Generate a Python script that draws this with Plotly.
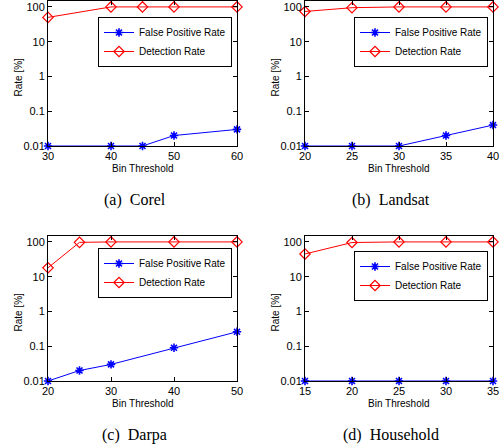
import plotly.graph_objects as go

# ---- data ----
x_corel = [30, 40, 45, 50, 60]
fpr_corel = [0.01, 0.01, 0.01, 0.02, 0.03]
dr_corel = [50, 100, 100, 100, 100]

x_landsat = [20, 25, 30, 35, 40]
fpr_landsat = [0.01, 0.01, 0.01, 0.02, 0.04]
dr_landsat = [74, 95, 100, 100, 100]

x_darpa = [20, 25, 30, 40, 50]
fpr_darpa = [0.01, 0.02, 0.03, 0.09, 0.26]
dr_darpa = [18, 97, 100, 100, 100]

x_house = [15, 20, 25, 30, 35]
fpr_house = [0.01, 0.01, 0.01, 0.01, 0.01]
dr_house = [45, 96, 100, 100, 100]

xticks_corel = [30, 40, 50, 60]
xticks_landsat = [20, 25, 30, 35, 40]
xticks_darpa = [20, 30, 40, 50]
xticks_house = [15, 20, 25, 30, 35]
yticks = [0.01, 0.1, 1, 10, 100]
ytick_labels = ["0.01", "0.1", "1", "10", "100"]

captions = ["(a)  Corel", "(b)  Landsat", "(c)  Darpa", "(d)  Household"]
names = ["False Positive Rate", "Detection Rate"]

W, H = 501, 448

panels = [
    dict(x=x_corel, fpr=fpr_corel, dr=dr_corel, xt=xticks_corel, xr=[30, 60],
         box=(48, 237, 1, 146), leg=(232, 17)),
    dict(x=x_landsat, fpr=fpr_landsat, dr=dr_landsat, xt=xticks_landsat, xr=[20, 40],
         box=(305, 493, 1, 146), leg=(488, 17)),
    dict(x=x_darpa, fpr=fpr_darpa, dr=dr_darpa, xt=xticks_darpa, xr=[20, 50],
         box=(48, 237, 236, 381), leg=(232, 248)),
    dict(x=x_house, fpr=fpr_house, dr=dr_house, xt=xticks_house, xr=[15, 35],
         box=(305, 493, 236, 381), leg=(488, 251)),
]

fig = go.Figure()
annotations = []
tickfont = dict(family="Liberation Sans, Arial, sans-serif", size=11, color="black")
lblfont = dict(family="Liberation Sans, Arial, sans-serif", size=10, color="black")

for i, p in enumerate(panels):
    k = "" if i == 0 else str(i + 1)
    xa, ya = "x" + k, "y" + k
    lg = "legend" + k
    fig.add_trace(go.Scatter(
        x=p["x"], y=p["fpr"], name=names[0], xaxis=xa, yaxis=ya, legend=lg,
        mode="lines+markers", line=dict(color="#0000ff", width=1),
        marker=dict(symbol="asterisk-open", size=7, color="#0000ff",
                    line=dict(color="#0000ff", width=1.6)),
        cliponaxis=False))
    fig.add_trace(go.Scatter(
        x=p["x"], y=p["dr"], name=names[1], xaxis=xa, yaxis=ya, legend=lg,
        mode="lines+markers", line=dict(color="#ff0000", width=1),
        marker=dict(symbol="diamond-open", size=8, color="#ff0000",
                    line=dict(color="#ff0000", width=1.2)),
        cliponaxis=False))
    x0, x1, y0, y1 = p["box"]
    dx = [x0 / W, x1 / W]
    dy = [1 - y1 / H, 1 - y0 / H]
    common = dict(showline=True, linecolor="black", linewidth=1, mirror="ticks",
                  ticks="inside", ticklen=4, tickcolor="black", showgrid=False,
                  zeroline=False, tickfont=tickfont, ticklabeloverflow="allow")
    fig.layout["xaxis" + k] = dict(domain=dx, anchor=ya, range=p["xr"],
                                   tickvals=p["xt"], **common)
    fig.layout["yaxis" + k] = dict(domain=dy, anchor=xa, type="log",
                                   range=[-2, 2.17], tickvals=yticks,
                                   ticktext=ytick_labels, **common)
    lx, ly = p["leg"]
    fig.layout[lg] = dict(x=lx / W, y=1 - ly / H, xanchor="right", yanchor="top",
                          xref="paper", yref="paper",
                          bgcolor="white", bordercolor="black", borderwidth=1,
                          font=dict(family="Liberation Sans, Arial, sans-serif",
                                    size=10, color="black"),
                          tracegroupgap=0, itemwidth=30)
    # axis titles
    annotations.append(dict(text="Rate [%]", x=(x0 - 30) / W, y=1 - ((y0 + y1) / 2 + 4) / H,
                            xref="paper", yref="paper", textangle=-90,
                            xanchor="center", yanchor="middle",
                            showarrow=False, font=lblfont))
    annotations.append(dict(text="Bin Threshold", x=((x0 + x1) / 2) / W,
                            y=1 - (y1 + 22) / H, xref="paper", yref="paper",
                            xanchor="center", yanchor="middle",
                            showarrow=False, font=lblfont))
    annotations.append(dict(text=captions[i], x=((x0 + x1) / 2 - 8) / W,
                            y=1 - (y1 + 54) / H, xref="paper", yref="paper",
                            xanchor="center", yanchor="middle",
                            showarrow=False,
                            font=dict(family="Liberation Serif, Times New Roman, serif",
                                      size=16, color="black")))

fig.update_layout(width=W, height=H,
                  margin=dict(l=0, r=0, t=0, b=0, autoexpand=False),
                  paper_bgcolor="white", plot_bgcolor="white",
                  annotations=annotations, showlegend=True)
fig.write_html("out.html", config={"displayModeBar": False},
               post_script="document.body.style.margin='0';document.body.style.overflow='hidden';")
